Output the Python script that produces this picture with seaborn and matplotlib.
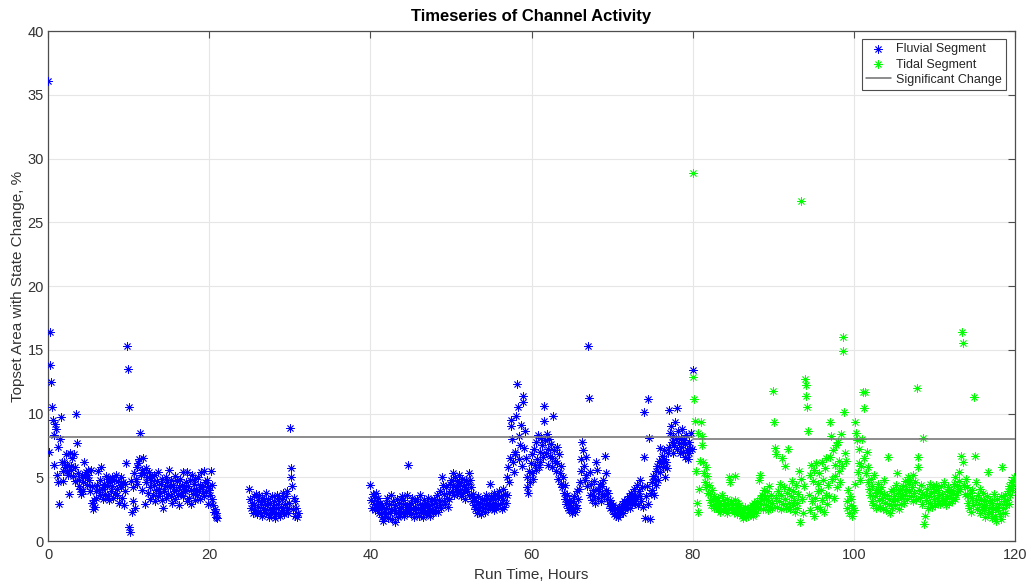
import numpy as np
import pandas as pd
import matplotlib
matplotlib.use("Agg")
import matplotlib.pyplot as plt
import seaborn as sns

# Sampling interval of the channel-activity record, hours
STEP = 0.1

# Fluvial segment, run 0.0 - 21.0 h
fluvial_a_start = 0.0
fluvial_a = [
    36.1, 7.0, 16.4, 13.8, 12.5, 10.5, 9.5, 6.0, 8.3, 9.2,
    8.8, 5.2, 7.4, 4.6, 2.9, 8.0, 9.7, 6.2, 5.5, 4.7,
    6.2, 5.8, 6.8, 5.5, 6.0, 5.2, 3.7, 6.9, 5.6, 5.9,
    6.5, 5.1, 6.8, 4.7, 5.8, 10.0, 7.7, 5.3, 4.8, 4.3,
    4.1, 3.7, 5.2, 4.6, 3.9, 6.2, 5.0, 5.4, 4.4, 5.6,
    5.2, 4.8, 3.9, 5.6, 4.3, 3.0, 2.5, 3.2, 2.7, 3.4,
    3.9, 4.4, 5.5, 4.0, 3.6, 4.8, 5.8, 4.1, 3.3, 4.5,
    4.2, 3.7, 5.1, 4.4, 3.5, 4.9, 3.2, 4.6, 3.9, 5.0,
    4.3, 3.4, 4.8, 3.8, 5.2, 4.1, 3.6, 4.7, 3.0, 4.4,
    5.0, 4.2, 3.4, 4.6, 2.8, 3.9, 4.5, 6.1, 15.3, 13.5,
    10.5, 1.1, 0.7, 4.7, 2.3, 3.1, 4.2, 5.3, 2.6, 4.9,
    5.8, 4.5, 6.1, 6.4, 8.5, 5.2, 5.6, 4.0, 6.5, 5.3,
    2.9, 5.7, 4.6, 5.0, 3.8, 5.4, 4.2, 3.3, 4.8, 5.1,
    3.6, 4.4, 5.2, 3.1, 4.0, 4.7, 3.5, 5.4, 4.1, 3.8,
    4.5, 3.2, 4.9, 2.6, 3.9, 4.3, 5.0, 3.4, 4.6, 3.7,
    5.6, 4.2, 3.5, 4.8, 3.0, 4.4, 3.9, 5.1, 3.3, 4.0,
    4.7, 3.6, 4.2, 2.8, 4.9, 3.8, 4.4, 5.4, 3.5, 4.1,
    3.9, 4.6, 3.1, 5.4, 4.3, 3.4, 4.8, 2.9, 4.0, 5.2,
    3.7, 4.5, 3.2, 4.9, 4.1, 3.6, 5.0, 3.9, 4.4, 3.3,
    5.4, 4.2, 3.8, 5.5, 3.5, 4.6, 3.9, 4.8, 2.9, 4.3,
    4.0, 3.6, 5.5, 4.4, 3.3, 2.8, 2.3, 2.5, 1.9, 2.2,
    1.8,
]

# Fluvial segment, run 25.0 - 31.0 h
fluvial_b_start = 25.0
fluvial_b = [
    4.1, 3.3, 2.6, 3.0, 2.2, 3.5, 2.8, 2.4, 3.7, 2.1,
    3.2, 2.7, 3.6, 2.3, 2.9, 3.4, 2.0, 2.6, 3.1, 2.4,
    3.8, 2.2, 2.8, 3.3, 1.9, 2.5, 3.0, 2.1, 3.5, 2.7,
    2.3, 3.1, 1.8, 2.6, 3.6, 2.2, 2.9, 3.4, 2.0, 2.7,
    3.3, 2.4, 3.8, 2.1, 2.9, 3.5, 2.6, 3.9, 2.2, 3.0,
    8.9, 5.7, 5.0, 4.3, 2.5, 3.4, 2.0, 3.1, 2.6, 1.9,
    2.2,
]

# Fluvial segment, run 40.0 - 80.0 h
fluvial_c_start = 40.0
fluvial_c = [
    4.4, 3.2, 2.6, 3.7, 2.9, 3.5, 2.4, 3.8, 3.1, 2.7,
    3.4, 2.2, 3.0, 2.5, 1.9, 2.8, 1.6, 2.3, 2.1, 3.0,
    2.6, 3.4, 1.8, 2.9, 2.2, 3.6, 2.5, 1.7, 3.1, 2.4,
    1.5, 2.8, 2.2, 3.3, 1.9, 2.6, 3.0, 2.1, 2.7, 3.5,
    2.3, 3.2, 2.0, 2.9, 2.5, 3.6, 2.2, 6.0, 2.8, 2.4,
    3.0, 2.1, 3.4, 2.6, 1.9, 3.1, 2.7, 2.2, 3.3, 2.5,
    2.0, 2.9, 3.6, 2.3, 2.7, 1.9, 3.2, 2.4, 3.0, 2.1,
    2.8, 2.3, 3.4, 2.6, 2.0, 3.1, 2.5, 2.9, 2.2, 3.3,
    2.4, 3.0, 2.7, 3.6, 2.3, 3.2, 2.8, 3.9, 2.6, 5.0,
    4.4, 3.1, 3.7, 2.9, 4.2, 3.4, 2.7, 3.8, 3.3, 4.5,
    4.8, 3.9, 5.3, 4.4, 3.6, 5.0, 4.1, 4.7, 3.7, 4.3,
    5.2, 4.0, 4.6, 3.5, 4.9, 3.8, 4.4, 3.3, 4.1, 4.8,
    3.9, 4.5, 3.6, 5.3, 4.8, 4.2, 3.1, 3.7, 2.8, 3.4,
    2.5, 3.1, 2.2, 2.9, 3.5, 2.4, 3.0, 2.1, 2.7, 3.3,
    2.6, 3.2, 2.3, 3.6, 2.8, 3.4, 2.5, 3.0, 4.5, 2.9,
    3.5, 2.7, 3.3, 2.4, 3.8, 3.0, 2.6, 3.6, 2.8, 3.4,
    3.9, 2.9, 3.5, 2.5, 4.1, 3.2, 2.7, 3.7, 3.0, 3.6,
    5.0, 5.8, 4.6, 6.5, 9.5, 9.0, 8.0, 6.2, 5.4, 7.0,
    6.8, 9.8, 12.3, 10.5, 8.2, 6.4, 7.5, 9.1, 5.9, 11.4,
    10.9, 7.3, 8.6, 6.5, 5.0, 4.2, 3.8, 5.5, 4.6, 6.1,
    5.3, 6.8, 4.9, 7.2, 6.0, 5.6, 7.8, 6.4, 8.3, 5.8,
    7.0, 6.2, 8.1, 7.5, 6.6, 9.4, 10.6, 7.9, 6.9, 8.4,
    7.2, 6.0, 8.0, 6.7, 7.6, 5.8, 6.5, 9.8, 7.1, 6.3,
    5.5, 7.4, 6.1, 4.9, 6.8, 5.3, 4.5, 5.9, 4.2, 5.0,
    3.8, 3.3, 4.4, 2.9, 3.6, 2.6, 3.2, 2.4, 3.0, 2.7,
    2.2, 3.1, 2.5, 3.5, 2.3, 2.8, 3.9, 2.6, 3.3, 4.1,
    4.6, 5.5, 6.4, 7.8, 7.1, 5.9, 4.8, 6.6, 5.2, 4.3,
    15.3, 11.2, 5.4, 3.6, 4.5, 3.2, 4.0, 3.5, 4.7, 3.0,
    6.2, 5.6, 4.1, 3.4, 3.9, 4.5, 3.1, 4.3, 3.7, 4.8,
    3.5, 6.7, 5.3, 4.0, 3.3, 3.8, 2.9, 3.2, 2.6, 3.0,
    2.4, 2.8, 2.1, 2.6, 2.2, 2.0, 2.5, 1.9, 2.3, 2.7,
    2.1, 2.4, 2.9, 2.2, 2.6, 3.1, 2.5, 2.8, 3.3, 2.7,
    3.0, 3.5, 2.6, 3.2, 3.8, 2.9, 3.4, 4.1, 3.0, 3.6,
    3.3, 4.4, 2.8, 3.9, 4.8, 3.5, 3.1, 4.2, 2.7, 6.6,
    10.1, 1.8, 3.5, 4.3, 2.9, 11.1, 8.1, 1.7, 3.8, 4.6,
    4.0, 5.1, 3.6, 4.9, 5.5, 4.4, 5.9, 4.8, 6.3, 7.3,
    5.4, 6.1, 6.7, 5.8, 6.4, 7.1, 5.0, 6.2, 5.7, 6.9,
    10.3, 7.4, 8.5, 9.0, 7.8, 6.9, 8.2, 7.5, 9.3, 8.0,
    7.2, 10.4, 8.6, 7.7, 6.9, 8.1, 7.4, 8.8, 7.0, 7.9,
    6.6, 7.6, 8.3, 7.1, 6.4, 7.8, 6.9, 7.3, 8.5, 7.2,
    13.4,
]

# Tidal segment, run 80.0 - 120.0 h
tidal_start = 80.0
tidal = [
    28.9, 12.9, 11.1, 9.4, 5.5, 3.0, 8.5, 2.3, 4.1, 6.3,
    9.3, 8.2, 7.5, 6.2, 5.3, 4.6, 5.8, 4.2, 5.1, 3.8,
    4.4, 3.2, 3.7, 2.8, 4.0, 3.3, 2.6, 3.5, 2.9, 3.1,
    2.7, 3.4, 2.5, 3.0, 2.3, 2.8, 3.6, 2.4, 3.2, 2.6,
    3.0, 2.5, 3.3, 2.2, 2.8, 5.0, 4.6, 2.6, 3.1, 2.4,
    2.9, 2.3, 3.2, 5.1, 2.7, 2.1, 3.0, 2.5, 2.8, 2.2,
    2.6, 2.0, 2.4, 1.8, 2.3, 2.7, 1.9, 2.2, 2.5, 2.0,
    2.3, 2.6, 2.1, 2.8, 2.4, 2.0, 3.0, 2.5, 2.2, 2.7,
    3.1, 2.6, 4.8, 3.4, 5.2, 2.9, 3.6, 2.5, 3.3, 4.0,
    3.5, 2.8, 3.9, 2.4, 3.2, 4.3, 2.7, 3.6, 3.0, 2.6,
    11.8, 9.3, 7.3, 3.4, 6.8, 2.7, 3.9, 3.1, 4.5, 2.5,
    3.6, 6.5, 2.9, 4.2, 3.3, 5.9, 2.6, 3.8, 7.2, 3.0,
    4.1, 2.5, 3.5, 4.7, 2.8, 3.9, 3.2, 2.3, 4.4, 3.0,
    2.6, 3.7, 5.5, 1.5, 4.9, 26.7, 3.3, 2.2, 4.3, 12.7,
    12.2, 11.4, 10.5, 8.6, 3.6, 5.2, 2.4, 6.0, 3.1, 4.7,
    2.0, 5.6, 3.4, 6.1, 2.7, 4.5, 3.9, 5.3, 2.5, 4.0,
    6.2, 3.2, 4.8, 2.3, 5.7, 3.6, 6.5, 2.9, 4.4, 3.5,
    6.6, 9.3, 8.2, 4.9, 7.1, 3.4, 6.0, 5.1, 7.5, 4.2,
    7.8, 5.5, 6.3, 4.6, 8.4, 5.9, 16.0, 14.9, 10.1, 6.9,
    6.3, 3.1, 2.6, 4.0, 2.2, 3.5, 2.8, 3.3, 2.0, 2.6,
    2.4, 4.5, 9.3, 8.5, 7.9, 5.4, 7.2, 6.1, 4.8, 5.9,
    8.0, 11.7, 10.4, 6.5, 11.7, 5.3, 7.0, 4.6, 5.8, 4.1,
    3.6, 4.9, 3.1, 4.3, 2.8, 5.2, 3.5, 4.0, 2.6, 3.8,
    4.5, 3.2, 3.9, 2.7, 4.2, 3.4, 2.5, 3.7, 4.8, 3.0,
    2.4, 3.6, 6.6, 2.9, 3.3, 2.2, 3.9, 2.6, 3.1, 4.1,
    3.5, 2.8, 4.4, 5.3, 3.2, 3.8, 2.5, 4.0, 3.4, 2.9,
    3.7, 4.3, 3.0, 4.7, 3.6, 4.1, 3.3, 5.0, 3.9, 4.5,
    4.8, 3.5, 4.2, 3.1, 5.2, 3.8, 4.6, 3.3, 12.0, 6.6,
    5.8, 4.0, 3.4, 4.4, 3.7, 2.9, 8.1, 1.3, 2.0, 3.6,
    3.2, 4.1, 2.6, 3.5, 4.5, 3.0, 3.8, 2.7, 4.2, 3.3,
    3.9, 2.8, 4.4, 3.4, 3.0, 4.0, 3.6, 2.9, 4.3, 3.2,
    3.7, 3.1, 4.6, 3.3, 2.8, 3.9, 3.5, 4.2, 3.0, 3.6,
    3.4, 4.0, 3.1, 3.8, 4.5, 3.3, 5.0, 3.6, 4.3, 3.9,
    4.7, 5.4, 4.1, 6.7, 16.4, 15.5, 6.2, 4.4, 3.7, 4.9,
    3.5, 4.2, 3.0, 2.6, 3.8, 2.3, 3.4, 4.0, 2.8, 11.3,
    6.7, 3.2, 4.6, 2.5, 3.6, 2.9, 4.1, 2.2, 3.3, 2.7,
    3.8, 2.4, 3.1, 1.9, 2.8, 3.5, 2.1, 5.4, 2.6, 3.2,
    2.3, 1.8, 3.0, 2.5, 3.7, 2.0, 2.7, 1.6, 3.3, 2.4,
    2.9, 2.1, 3.5, 1.7, 5.8, 2.6, 3.1, 2.2, 3.6, 2.8,
    3.2, 3.9, 2.9, 4.3, 3.6, 4.6, 4.0, 4.8, 4.4, 5.0,
    4.7,
]

# Significant-change thresholds for each segment
threshold_hours = [[0.0, 80.0], [80.0, 120.0]]
threshold_values = [8.15, 7.98]


def run_times(start, values):
    return start + STEP * np.arange(len(values))


fluvial_df = pd.DataFrame({
    "hours": np.concatenate([
        run_times(fluvial_a_start, fluvial_a),
        run_times(fluvial_b_start, fluvial_b),
        run_times(fluvial_c_start, fluvial_c),
    ]),
    "pct": np.concatenate([fluvial_a, fluvial_b, fluvial_c]),
})
tidal_df = pd.DataFrame({
    "hours": run_times(tidal_start, tidal),
    "pct": tidal,
})

sns.set_style("white")
plt.rcParams["font.family"] = ["Liberation Sans", "DejaVu Sans"]

fig = plt.figure(figsize=(10.35, 5.83), dpi=100)
ax = fig.add_axes([0.0464, 0.072, 0.9343, 0.8748])

asterisk = (8, 2, 0)
sns.scatterplot(data=fluvial_df, x="hours", y="pct", ax=ax, marker=asterisk,
                color="#0000ff", edgecolor="#0000ff", s=30, linewidth=0.6,
                label="Fluvial Segment", zorder=3)
sns.scatterplot(data=tidal_df, x="hours", y="pct", ax=ax, marker=asterisk,
                color="#00ff00", edgecolor="#00ff00", s=30, linewidth=0.6,
                label="Tidal Segment", zorder=3)

for i, (hrs, val) in enumerate(zip(threshold_hours, threshold_values)):
    seg = pd.DataFrame({"hours": hrs, "pct": [val, val]})
    sns.lineplot(data=seg, x="hours", y="pct", ax=ax, color="#6e6e6e",
                 linewidth=1.1, label="Significant Change" if i == 0 else None,
                 legend=False, zorder=4)

ax.set_xlim(0, 120)
ax.set_ylim(0, 40)
ax.set_xticks(np.arange(0, 121, 20))
ax.set_yticks(np.arange(0, 41, 5))
ax.grid(True, color="#e6e6e6", linewidth=0.8)
ax.set_axisbelow(True)

for spine in ax.spines.values():
    spine.set_color("#4d4d4d")
    spine.set_linewidth(0.9)
ax.tick_params(direction="in", top=True, right=True, length=5,
               width=0.8, color="#4d4d4d", labelsize=10.5,
               labelcolor="#333333")
ax.tick_params(axis="y", pad=3)
ax.tick_params(axis="x", pad=5)

ax.set_xlabel("Run Time, Hours", fontsize=11, color="#333333", labelpad=4)
ax.set_ylabel("Topset Area with State Change, %", fontsize=11,
              color="#333333", labelpad=2)
ax.set_title("Timeseries of Channel Activity", fontsize=12,
             fontweight="bold", color="black", pad=7)

handles, labels = ax.get_legend_handles_labels()
leg = ax.legend(handles, labels, loc="upper right", fontsize=9,
                frameon=True, fancybox=False, framealpha=1,
                edgecolor="#4d4d4d", borderpad=0.35, labelspacing=0.25,
                handlelength=2.0, handletextpad=0.4, borderaxespad=0,
                bbox_to_anchor=(0.9907, 0.9843))
leg.get_frame().set_linewidth(0.8)

fig.savefig("out.png", dpi=100)
